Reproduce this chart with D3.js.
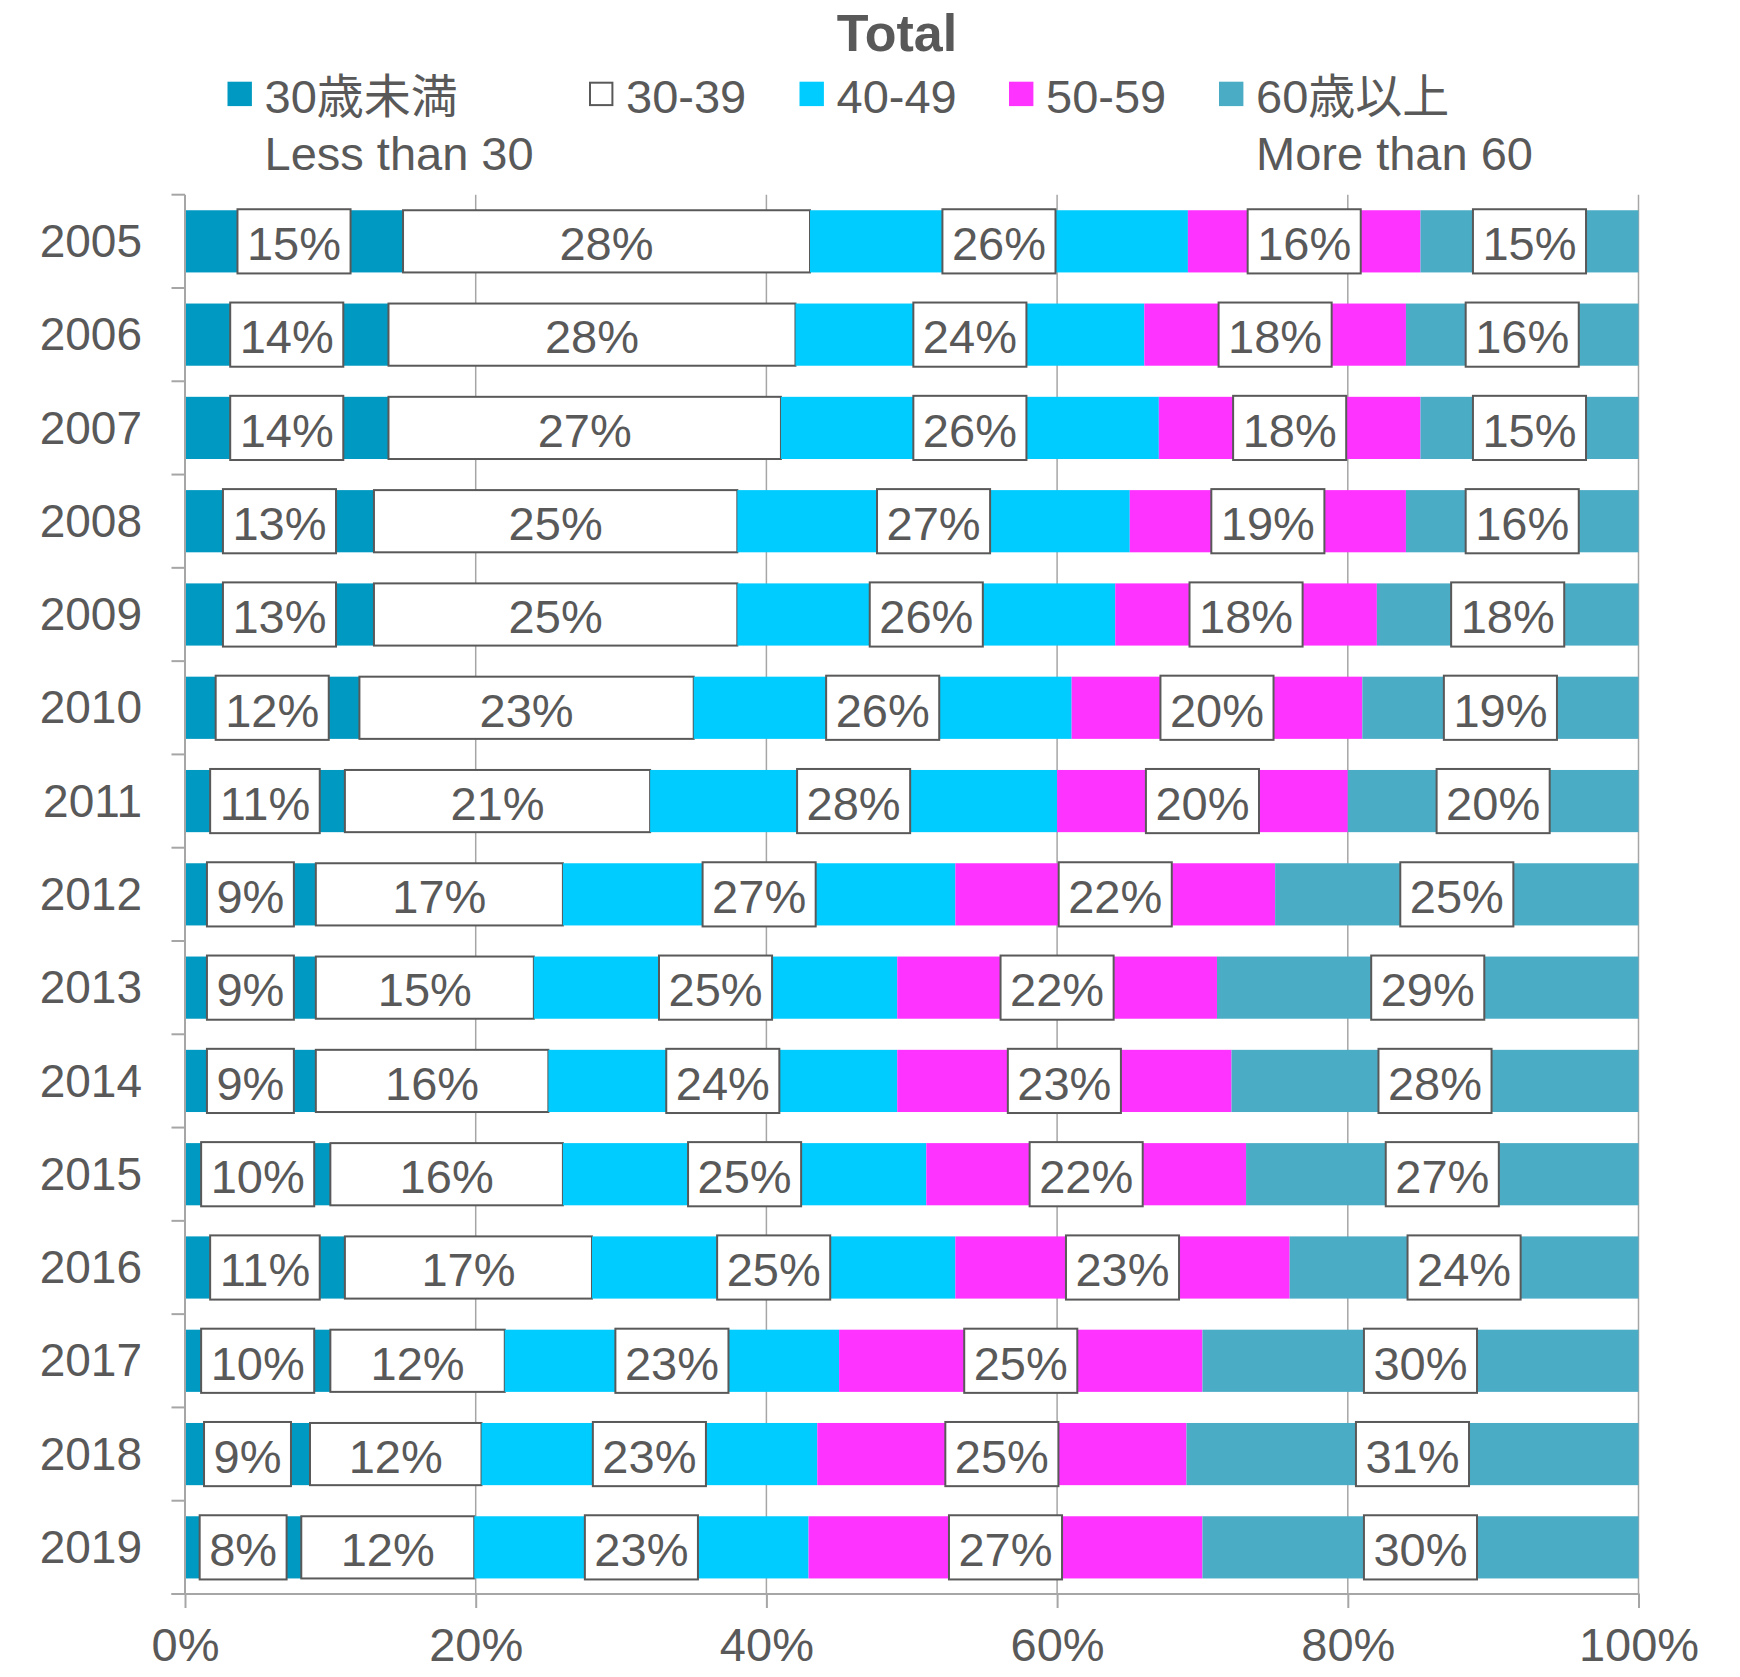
<!DOCTYPE html>
<html>
<head>
<meta charset="utf-8">
<script src="https://cdn.jsdelivr.net/npm/d3@7"></script>
<style>
  body { margin: 0; background: #fff; }
  text { font-family: "Liberation Sans", Arial, "Noto Sans CJK JP", sans-serif; fill: #595959; }
</style>
</head>
<body>
<div id="chart"></div>
<script>
// data (percent of total)
const years = ['2005', '2006', '2007', '2008', '2009', '2010', '2011', '2012',
  '2013', '2014', '2015', '2016', '2017', '2018', '2019'];
const under30 = [15, 14, 14, 13, 13, 12, 11, 9, 9, 9, 10, 11, 10, 8.6, 8.0];
const age30s = [28, 28, 27, 25, 25, 23, 21, 17, 15, 16, 16, 17, 12, 11.8, 11.9];
const age40s = [26, 24, 26, 27, 26, 26, 28, 27, 25, 24, 25, 25, 23, 23.1, 23.0];
const age50s = [16, 18, 18, 19, 18, 20, 20, 22, 22, 23, 22, 23, 25, 25.4, 27.1];
const over60 = [15, 16, 15, 16, 18, 19, 20, 25, 29, 28, 27, 24, 30, 31.1, 30.0];
const xTicks = [0, 20, 40, 60, 80, 100];

const seriesKeys = ['under30', 'age30s', 'age40s', 'age50s', 'over60'];
const seriesNames = [['30歳未満', 'Less than 30'], ['30-39'], ['40-49'], ['50-59'], ['60歳以上', 'More than 60']];
const colors = ['#0099C1', '#FFFFFF', '#00CCFF', '#FF33FF', '#4BACC6'];

const rows = years.map((y, i) => ({
  year: y,
  under30: under30[i],
  age30s: age30s[i],
  age40s: age40s[i],
  age50s: age50s[i],
  over60: over60[i],
}));

const width = 1740;
const height = 1677;
const plotLeft = 185;
const plotRight = 1638.5;
const plotTop = 194.7;
const plotBottom = 1594;
const gray = '#595959';
const gridGray = '#a6a6a6';

const svg = d3.select('#chart')
    .append('svg')
    .attr('width', width)
    .attr('height', height);

const x = d3.scaleLinear().domain([0, 100]).range([plotLeft, plotRight]);
const y = d3.scaleBand()
    .domain(years)
    .range([plotTop, plotBottom])
    .paddingInner(1 / 3)
    .paddingOuter(1 / 6);

// vertical gridlines
svg.append('g')
    .selectAll('line')
    .data(xTicks.slice(1))
    .join('line')
    .attr('x1', (d) => x(d))
    .attr('x2', (d) => x(d))
    .attr('y1', plotTop)
    .attr('y2', plotBottom)
    .attr('stroke', gridGray)
    .attr('stroke-width', 1.5);

// bars
const stacked = d3.stack().keys(seriesKeys)(rows);
svg.append('g')
    .selectAll('g')
    .data(stacked)
    .join('g')
    .attr('fill', (d, i) => colors[i])
    .attr('stroke', (d) => d.key === 'age30s' ? gray : 'none')
    .attr('stroke-width', 2)
    .selectAll('rect')
    .data((d) => d)
    .join('rect')
    .attr('x', (d) => x(d[0]))
    .attr('y', (d) => y(d.data.year))
    .attr('width', (d) => x(d[1]) - x(d[0]))
    .attr('height', y.bandwidth());

// left axis line and category ticks
svg.append('line')
    .attr('x1', plotLeft).attr('x2', plotLeft)
    .attr('y1', plotTop).attr('y2', plotBottom)
    .attr('stroke', gridGray).attr('stroke-width', 2);

const step = y.step();
svg.append('g')
    .selectAll('line')
    .data(d3.range(years.length + 1))
    .join('line')
    .attr('x1', plotLeft - 13.5)
    .attr('x2', plotLeft)
    .attr('y1', (d) => plotTop + d * step)
    .attr('y2', (d) => plotTop + d * step)
    .attr('stroke', gridGray)
    .attr('stroke-width', 2);

// year labels
svg.append('g')
    .selectAll('text')
    .data(years)
    .join('text')
    .attr('x', 142)
    .attr('y', (d) => y(d) + y.bandwidth() / 2)
    .attr('dy', '0.34em')
    .attr('text-anchor', 'end')
    .attr('font-size', 46)
    .text((d) => d);

// bottom axis
const xAxis = svg.append('g')
    .attr('transform', 'translate(0,' + plotBottom + ')')
    .call(d3.axisBottom(x)
        .tickValues(xTicks)
        .tickFormat((d) => d + '%')
        .tickSize(14)
        .tickSizeOuter(0)
        .tickPadding(20));
xAxis.select('.domain').remove();
xAxis.selectAll('line').attr('stroke', gridGray).attr('stroke-width', 2);
xAxis.selectAll('text')
    .attr('font-size', 47)
    .attr('font-family', null)
    .attr('fill', gray);
svg.append('line')
    .attr('x1', plotLeft - 13.5).attr('x2', plotRight + 1)
    .attr('y1', plotBottom).attr('y2', plotBottom)
    .attr('stroke', gridGray).attr('stroke-width', 2);

// data labels, drawn over all bars
const labelData = stacked.flatMap((s) => s.map((p) => ({p: p, key: s.key})));
const labels = svg.append('g')
    .selectAll('g')
    .data(labelData)
    .join('g')
    .attr('transform', (d) => 'translate(' + x((d.p[0] + d.p[1]) / 2) + ',' +
      (y(d.p.data.year) + y.bandwidth() / 2) + ')');

labels.filter((d) => d.key !== 'age30s').append('rect');
labels.append('text')
    .attr('text-anchor', 'middle')
    .attr('dy', '0.4em')
    .attr('font-size', 47)
    .text((d) => Math.round(d.p[1] - d.p[0]) + '%');

labels.filter((d) => d.key !== 'age30s').each(function() {
  const g = d3.select(this);
  const w = g.select('text').node().getComputedTextLength() + 19;
  const h = y.bandwidth() + 2;
  g.select('rect')
      .attr('x', -w / 2)
      .attr('y', -h / 2)
      .attr('width', w)
      .attr('height', h)
      .attr('fill', '#fff')
      .attr('stroke', gray)
      .attr('stroke-width', 2);
});

// title
svg.append('text')
    .attr('x', 897)
    .attr('y', 51)
    .attr('text-anchor', 'middle')
    .attr('font-size', 52)
    .attr('font-weight', 'bold')
    .text('Total');

// legend
const legendX = [227.5, 589, 799.5, 1009, 1219];
const legend = svg.append('g')
    .selectAll('g')
    .data(seriesNames)
    .join('g')
    .attr('transform', (d, i) => 'translate(' + legendX[i] + ',0)');

legend.append('rect')
    .attr('x', (d, i) => i === 1 ? 1 : 0)
    .attr('y', (d, i) => i === 1 ? 82.7 : 81.7)
    .attr('width', (d, i) => i === 1 ? 22.4 : 24.4)
    .attr('height', (d, i) => i === 1 ? 22.4 : 24.4)
    .attr('fill', (d, i) => colors[i])
    .attr('stroke', (d, i) => i === 1 ? gray : 'none')
    .attr('stroke-width', 2);

legend.selectAll('text')
    .data((d) => d)
    .join('text')
    .attr('x', 37)
    .attr('y', (d, j) => j === 0 ? 113.3 : 170)
    .attr('font-size', 47)
    .text((d) => d);
</script>
</body>
</html>
